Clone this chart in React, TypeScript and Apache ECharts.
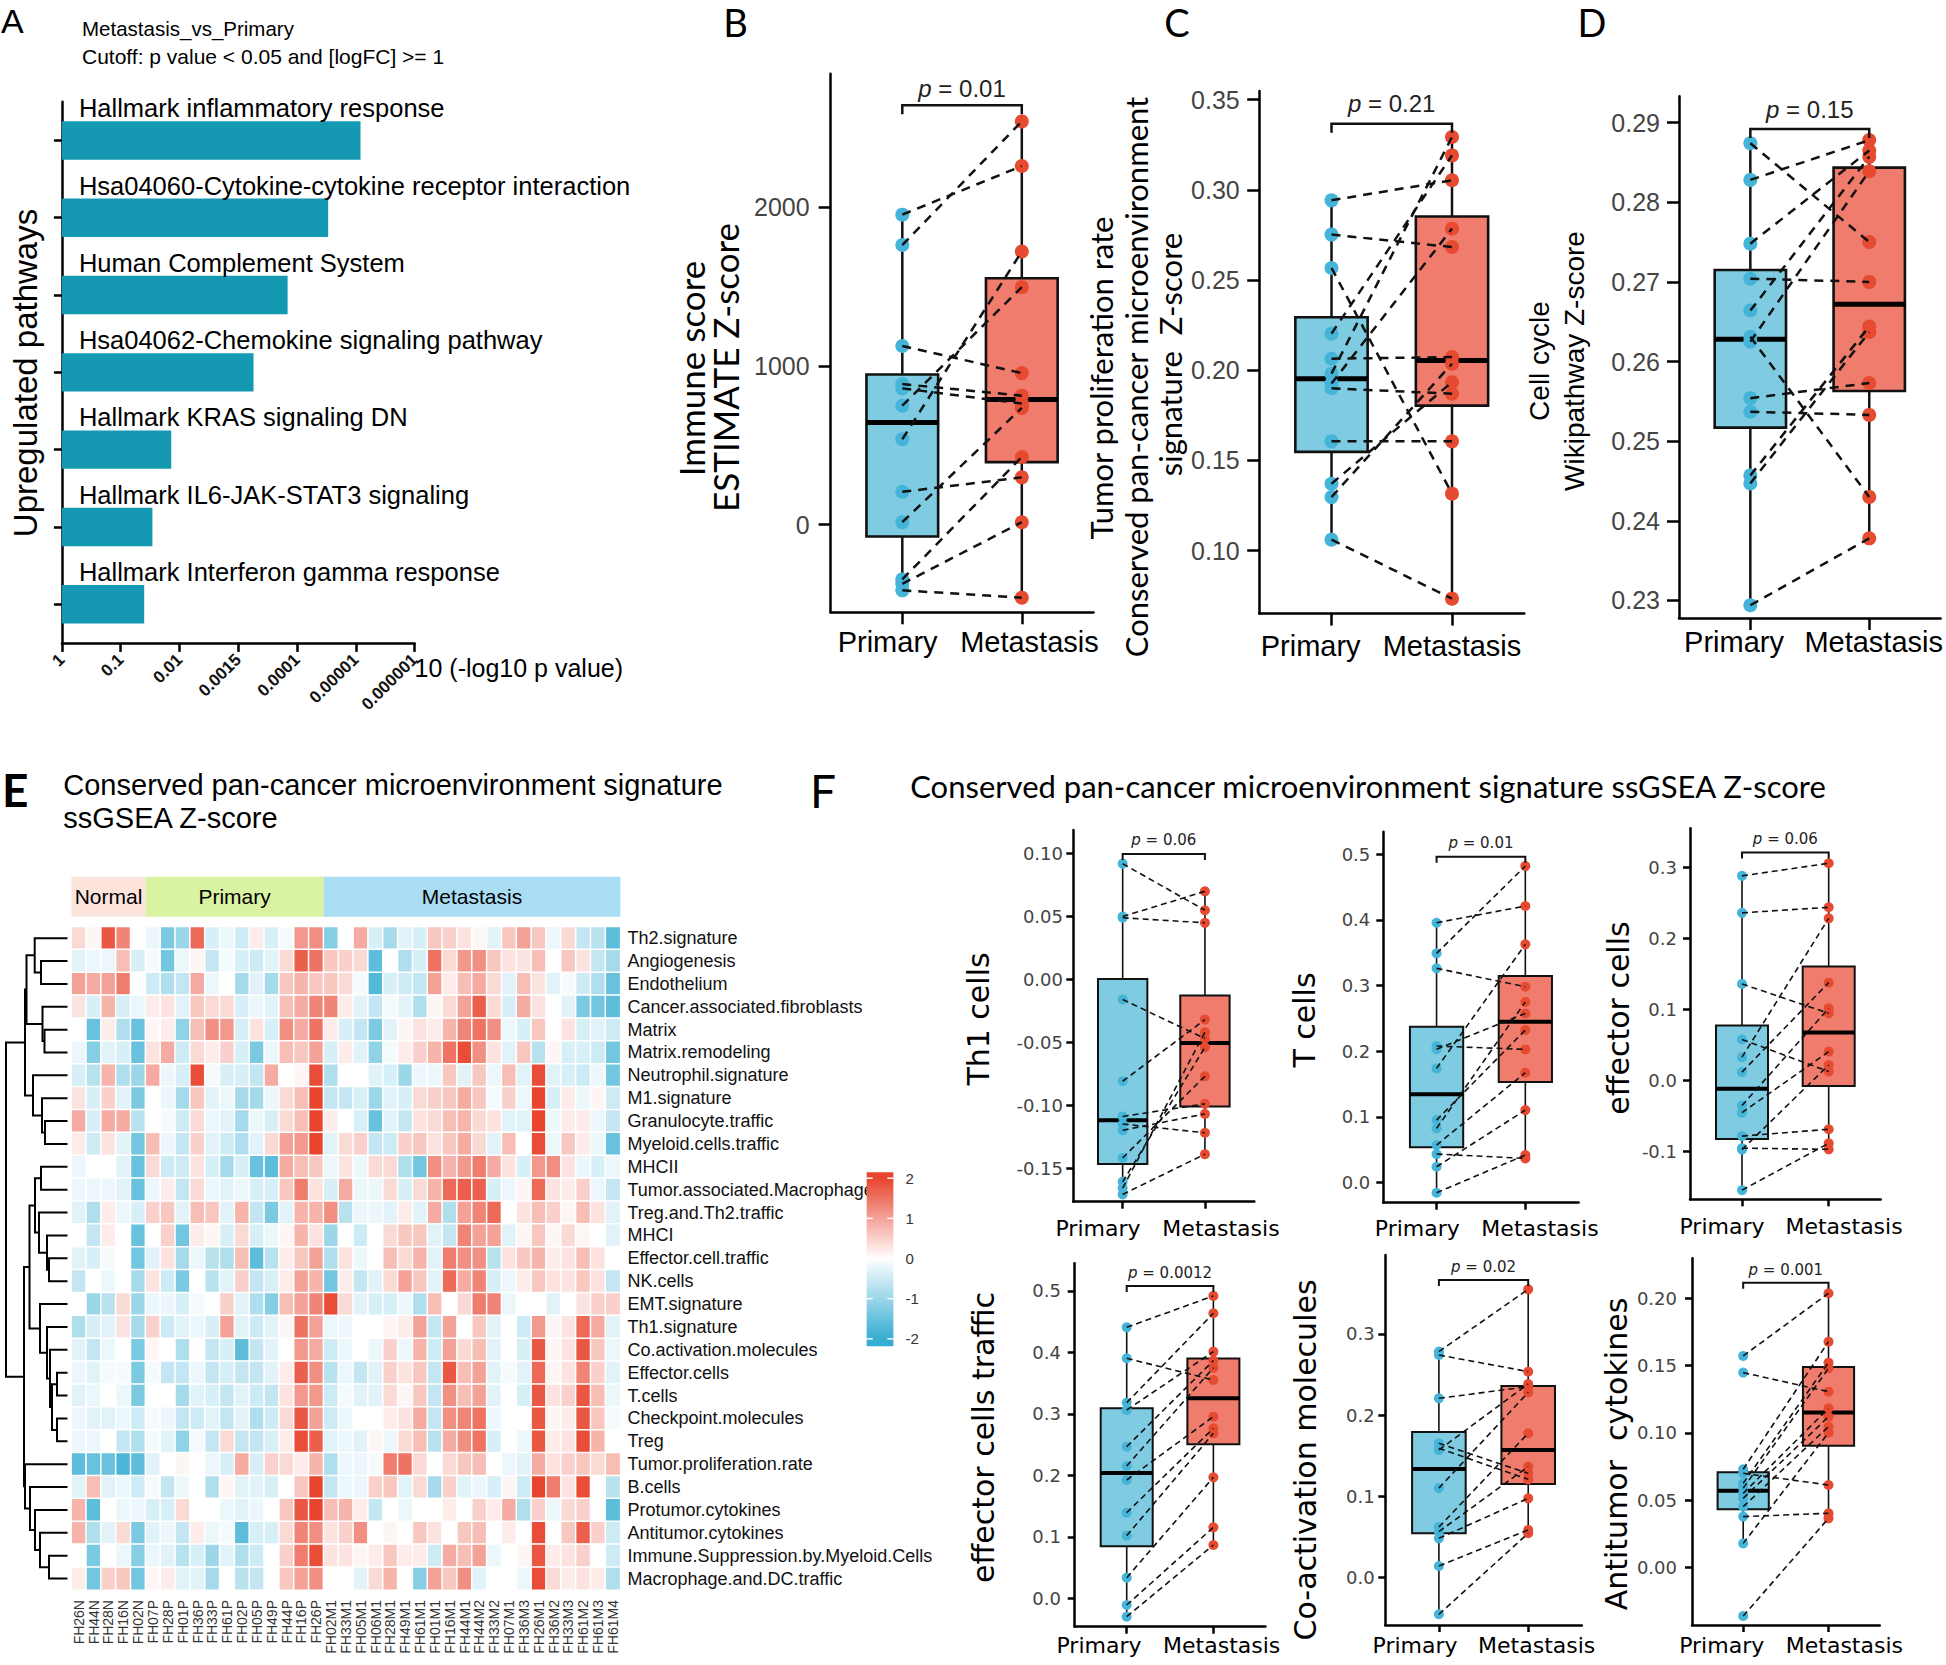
import React, { useEffect, useRef } from "react";
import * as echarts from "echarts";

const ARIAL = '"Liberation Sans", Arial, sans-serif';
const CAL = 'Lato, "Liberation Sans", sans-serif';
const DEJA = '"DejaVu Sans", sans-serif';

const BAR_COLOR = "#1598B2";
const BLUE_PT = "#45B4D9";
const RED_PT = "#E64A30";
const BLUE_BOX = "#7ECBE2";
const RED_BOX = "#EF7C6C";
const HEAT_BLUE = "#36ADD2";
const HEAT_RED = "#E8442E";

// ---------------- Panel A ----------------
const pathwayNames = [
  "Hallmark inflammatory response",
  "Hsa04060-Cytokine-cytokine receptor interaction",
  "Human Complement System",
  "Hsa04062-Chemokine signaling pathway",
  "Hallmark KRAS signaling DN",
  "Hallmark IL6-JAK-STAT3 signaling",
  "Hallmark Interferon gamma response",
];
const pathwayScore = [5.08, 4.53, 3.84, 3.26, 1.86, 1.54, 1.4];
const pValueTicks = ["1", "0.1", "0.01", "0.0015", "0.0001", "0.00001", "0.000001"];

// ---------------- Paired panels (Primary[i] pairs with Metastasis[i]) ----------------
const immunePrimary = [1951, 1760, 1125, 885, 858, 749, 538, 207, 16, -344, -372, -413];
const immuneMetastasis = [2257, 2538, 954, 812, 763, 1495, 1719, 298, 735, 426, 16, -459];

const prolifPrimary = [0.2942, 0.2752, 0.2567, 0.2203, 0.2064, 0.1981, 0.1926, 0.19, 0.1606, 0.1371, 0.1297, 0.1061];
const prolifMetastasis = [0.3053, 0.2683, 0.1316, 0.3191, 0.2073, 0.3293, 0.2785, 0.187, 0.1606, 0.1934, 0.2036, 0.0734];

const cellCyclePrimary = [0.2874, 0.2828, 0.2748, 0.2704, 0.2664, 0.2631, 0.2625, 0.2554, 0.2537, 0.2457, 0.2447, 0.2294];
const cellCycleMetastasis = [0.275, 0.2878, 0.2865, 0.27, 0.2857, 0.243, 0.2839, 0.2573, 0.2533, 0.2644, 0.2637, 0.2378];

const th1Primary = [0.092, 0.05, 0.049, -0.016, -0.081, -0.109, -0.115, -0.12, -0.142, -0.161, -0.166, -0.171];
const th1Metastasis = [0.055, 0.07, 0.045, -0.047, -0.032, -0.099, -0.122, -0.107, -0.077, -0.054, -0.042, -0.139];

const tcellPrimary = [0.3955, 0.3489, 0.3261, 0.2079, 0.203, 0.1739, 0.0953, 0.0827, 0.0573, 0.0436, 0.0243, -0.0152];
const tcellMetastasis = [0.4209, 0.4817, 0.2982, 0.2028, 0.2576, 0.3626, 0.2323, 0.275, 0.1673, 0.037, 0.1105, 0.0421];

const effPrimary = [0.288, 0.236, 0.136, 0.058, 0.033, 0.012, -0.035, -0.045, -0.078, -0.095, -0.097, -0.154];
const effMetastasis = [0.3057, 0.2438, 0.0947, 0.0127, 0.2283, 0.1378, 0.1017, 0.0408, -0.0684, -0.0966, 0.022, -0.0881];

const effTrafficPrimary = [0.4409, 0.3905, 0.3183, 0.3064, 0.2467, 0.2153, 0.1925, 0.1394, 0.102, 0.0336, -0.0108, -0.0298];
const effTrafficMetastasis = [0.4919, 0.3552, 0.4637, 0.4013, 0.3867, 0.375, 0.2956, 0.2766, 0.2684, 0.1969, 0.1155, 0.0868];

const coactPrimary = [0.2783, 0.2741, 0.2207, 0.1652, 0.1591, 0.157, 0.11, 0.062, 0.0563, 0.0481, 0.014, -0.0456];
const coactMetastasis = [0.3551, 0.2536, 0.2351, 0.1282, 0.1208, 0.2384, 0.228, 0.1776, 0.1365, 0.0974, 0.0584, 0.0543];

const antitumorPrimary = [0.1572, 0.1448, 0.0729, 0.0699, 0.0625, 0.0588, 0.055, 0.0513, 0.0451, 0.0377, 0.0178, -0.0362];
const antitumorMetastasis = [0.2038, 0.1306, 0.1678, 0.0612, 0.1522, 0.148, 0.1182, 0.112, 0.1046, 0.0402, 0.1001, 0.0364];

// ---------------- Panel E heatmap ----------------
const groupNames = ["Normal", "Primary", "Metastasis"];
const groupSizes = [5, 12, 20];
const groupColors = ["#FCE4DD", "#DAF3A2", "#A9DDF4"];
const sampleNames = [
  "FH26N", "FH44N", "FH28N", "FH16N", "FH02N",
  "FH07P", "FH28P", "FH01P", "FH36P", "FH33P", "FH61P", "FH02P", "FH05P", "FH49P", "FH44P", "FH16P", "FH26P",
  "FH02M1", "FH33M1", "FH05M1", "FH06M1", "FH28M1", "FH49M1", "FH61M1", "FH01M1", "FH16M1", "FH44M1",
  "FH44M2", "FH33M2", "FH07M1", "FH36M3", "FH26M1", "FH36M2", "FH33M3", "FH61M2", "FH61M3", "FH61M4",
];
const signatureNames = [
  "Th2.signature", "Angiogenesis", "Endothelium", "Cancer.associated.fibroblasts", "Matrix",
  "Matrix.remodeling", "Neutrophil.signature", "M1.signature", "Granulocyte.traffic", "Myeloid.cells.traffic",
  "MHCII", "Tumor.associated.Macrophages", "Treg.and.Th2.traffic", "MHCI", "Effector.cell.traffic",
  "NK.cells", "EMT.signature", "Th1.signature", "Co.activation.molecules", "Effector.cells",
  "T.cells", "Checkpoint.molecules", "Treg", "Tumor.proliferation.rate", "B.cells",
  "Protumor.cytokines", "Antitumor.cytokines", "Immune.Suppression.by.Myeloid.Cells", "Macrophage.and.DC.traffic",
];
const heatValues = [
  [0.4,0.1,1.8,1.3,0.0, -0.2,-1.3,-1.0,1.6,-0.4,-0.2,-0.5,0.2,-0.4,-0.1,1.1,1.2, -1.2,0.0,0.9,-0.4,-0.9,-0.3,-0.4,0.6,0.5,0.3,0.1,-0.3,0.6,1.0,0.6,-0.2,0.4,-0.6,-0.7,-1.6],
  [-0.3,-0.2,-0.2,0.7,-0.4, -0.1,-1.4,-0.2,0.1,-0.6,-0.1,-0.4,-0.5,-0.3,0.4,1.7,1.5, 0.6,0.5,0.4,-1.6,0.0,-0.8,-0.4,1.5,0.4,1.1,1.2,0.6,0.3,0.3,0.7,0.0,0.6,0.3,-0.6,-0.9],
  [1.0,0.9,1.0,1.4,0.0, -0.5,-0.8,-0.6,0.9,-0.2,0.0,-0.9,-0.3,-0.9,0.6,0.8,0.6, 0.6,0.4,-0.1,-1.7,-0.4,-0.5,-0.6,1.0,0.2,0.7,0.9,0.4,-0.3,0.7,0.3,-0.3,-0.1,-0.5,-0.8,-1.5],
  [0.3,-0.4,0.8,-0.4,-0.2, 0.2,0.3,-0.3,0.6,0.4,0.4,-0.4,-0.2,-0.3,0.7,0.9,1.3, 1.3,0.2,-0.3,-0.6,-0.1,-0.3,-0.8,0.1,0.4,1.0,1.7,0.4,-0.4,0.9,0.3,0.0,-0.3,-1.3,-1.4,-1.6],
  [0.0,-1.5,0.2,-0.8,-1.5, 0.1,0.2,-1.1,0.7,1.2,1.1,-0.4,0.3,-0.4,1.2,0.9,1.5, 0.2,-0.4,-0.6,-1.3,-0.3,0.1,0.3,0.2,0.8,1.3,1.5,1.2,-0.2,-0.4,0.6,0.0,0.3,-0.4,-0.3,-0.5],
  [-0.2,-1.2,-0.3,-0.4,-1.5, 0.3,0.9,-0.5,0.4,0.2,0.5,-0.4,-1.3,-0.2,0.7,0.6,1.0, -0.4,0.2,-0.3,-1.1,-0.1,0.2,0.5,0.8,1.5,1.9,1.2,0.3,-0.3,0.6,-0.7,0.1,-0.4,-0.4,-0.5,-1.4],
  [-0.4,-0.7,0.8,-0.8,-1.0, 0.9,-0.2,-0.4,1.9,-0.1,-0.4,-0.4,-0.6,0.9,0.0,0.1,1.9, -0.8,0.0,0.0,-0.3,-0.4,-1.0,-0.2,-0.2,0.6,-0.3,0.6,-0.2,0.7,-0.3,1.9,-0.3,-0.4,-0.5,-0.2,-1.4],
  [0.3,-0.4,0.5,-0.3,-1.3, 0.0,-0.2,-0.9,0.6,-0.3,-0.2,-0.9,-0.9,-0.2,0.4,0.7,2.0, -0.6,-0.6,-0.4,-1.0,-0.3,-0.4,0.4,0.5,0.6,0.9,0.6,-0.1,0.5,-0.2,2.0,-0.4,0.2,-0.2,0.1,-0.5],
  [0.9,-0.4,0.9,0.9,-0.7, 0.0,-0.1,-0.5,0.4,-0.2,-0.3,-0.9,-0.2,-0.4,0.4,0.7,2.0, 0.2,0.0,-0.4,-1.5,-0.3,-0.6,0.3,0.4,0.7,0.8,0.4,0.3,-0.3,-0.3,2.0,-0.2,0.2,0.2,-0.2,-0.6],
  [0.2,-0.5,0.3,-0.3,-1.4, 0.7,-0.2,-0.6,0.5,-0.3,-0.5,-0.8,-0.3,0.4,1.0,1.1,2.0, -0.3,0.4,0.5,-0.6,-0.5,0.5,0.6,0.3,0.6,0.9,0.4,-0.3,0.7,0.0,1.9,-0.2,0.6,0.2,-0.2,-1.5],
  [-0.2,0.0,0.0,-0.3,-1.5, 0.4,-0.5,-0.5,0.3,-0.4,-0.9,-0.4,-1.5,-1.6,0.9,0.7,0.6, -0.2,0.3,-0.2,0.4,0.4,-0.8,-1.4,1.2,0.8,1.1,1.4,0.9,0.3,-0.4,1.1,1.2,0.3,-0.2,-0.4,-0.2],
  [-0.2,-0.2,-0.2,-0.3,-1.5, -0.2,0.2,-0.6,0.4,-0.2,-0.3,-0.2,-0.4,-0.4,0.6,1.4,0.3, -0.4,0.9,-0.2,-0.2,0.4,-0.4,0.4,0.8,1.6,1.7,1.7,-0.4,-0.2,0.1,1.6,0.3,0.2,0.5,-0.2,-0.6],
  [-0.3,-0.8,0.2,-0.2,-0.4, 0.5,0.6,-0.3,0.7,0.6,-0.3,0.8,-0.6,-1.3,-0.3,0.8,0.8, 1.2,-0.7,-0.2,-0.2,-0.3,0.2,-0.3,0.9,-0.8,1.0,1.3,1.6,0.0,0.3,0.7,0.5,0.1,0.7,0.3,-0.3],
  [0.0,-0.6,0.2,0.0,-1.5, 0.0,0.5,-1.4,0.2,0.1,-0.4,0.4,-0.4,-0.2,0.1,0.8,0.3, -1.0,0.0,-0.5,0.0,0.4,0.6,0.6,-0.3,-0.6,1.3,1.0,1.0,-0.3,0.1,0.6,0.1,0.4,0.1,0.0,-0.3],
  [-0.3,-0.4,-0.1,0.0,-1.4, -0.3,0.3,-0.9,-0.2,-0.7,-0.8,0.7,-1.6,-0.7,0.2,0.6,1.0, -0.8,0.3,-0.2,0.0,0.7,0.4,0.8,-0.3,1.4,1.2,1.2,-0.7,0.3,0.6,0.8,0.2,0.3,0.7,0.3,0.0],
  [-0.6,0.0,-0.2,0.0,-0.9, 0.3,-0.5,-1.3,0.0,-0.7,-0.3,0.5,-0.6,-0.4,0.2,1.0,0.8, -1.4,0.2,-0.6,-0.3,0.4,1.0,0.6,-0.3,1.6,0.9,1.3,-0.4,-0.2,0.2,0.6,0.3,0.3,0.6,0.3,-0.6],
  [0.0,-1.0,-0.7,0.4,-1.0, -0.2,-0.2,-0.4,-0.1,0.0,0.5,-0.3,-0.8,-1.2,0.7,1.0,1.3, 1.9,0.4,-0.3,-0.4,-0.4,-0.2,-0.8,0.7,0.0,0.4,1.4,1.3,-0.2,0.0,0.0,-0.3,0.0,0.3,0.5,0.5],
  [-0.8,-0.4,-0.3,0.3,-0.9, 0.5,-0.5,-0.3,-0.2,-0.4,1.0,-0.3,-0.5,-0.3,0.1,1.5,1.0, -0.2,-0.2,0.0,0.0,0.1,0.2,1.0,-0.6,1.0,0.0,0.6,-0.3,0.0,-0.5,1.1,0.1,0.3,1.6,0.9,-0.3],
  [-0.3,-0.6,-0.2,0.0,-1.3, 0.1,0.0,-0.8,0.0,-0.6,-0.4,-1.6,-0.6,-0.3,0.0,1.1,0.9, -0.5,-0.2,0.0,-0.2,0.5,-0.2,0.8,-0.5,1.0,0.4,0.7,-0.3,0.0,-0.4,1.8,0.1,0.3,1.8,0.6,-0.2],
  [-0.2,-0.3,-0.1,-0.1,-1.3, -0.1,-0.6,-0.6,-0.2,-0.6,-0.4,-0.6,-0.6,-0.3,0.2,1.7,1.2, -0.7,-0.2,-0.6,-0.3,0.5,0.3,0.6,-0.6,1.8,0.7,1.0,-0.3,-0.1,-0.3,1.6,0.1,0.3,1.3,0.5,-0.3],
  [-0.3,-0.2,0.0,-0.2,-1.3, 0.0,0.0,-0.9,-0.3,-0.4,-0.6,-0.3,-0.5,-0.6,0.3,1.1,1.1, -0.5,-0.1,-0.3,-0.3,0.4,0.1,0.6,-0.6,1.2,0.7,1.0,-0.3,0.0,-0.4,1.8,0.3,0.5,1.8,0.7,-0.2],
  [-0.2,-0.3,-0.3,-0.2,-0.5, -0.1,-0.2,-0.6,-0.5,-0.3,-0.6,-0.3,-0.8,-0.5,0.4,1.8,1.0, -0.5,-0.2,0.0,0.0,0.2,0.3,0.9,-0.6,1.2,1.3,1.5,-0.2,0.0,0.0,1.8,0.1,0.2,1.8,0.6,-0.1],
  [-0.2,-0.2,0.0,-0.6,-0.8, -0.1,-0.3,-1.1,-0.1,-0.6,0.4,-0.6,-0.6,-0.4,0.2,1.9,1.7, -0.3,-0.2,-0.3,0.1,-0.2,0.4,0.7,-0.7,0.9,1.2,1.5,-0.4,0.0,-0.2,1.8,0.2,0.3,1.9,0.8,0.0],
  [-1.6,-1.5,-1.5,-1.8,-1.6, -0.3,0.0,0.1,0.0,-0.2,-0.4,0.9,-0.4,0.5,0.4,0.2,0.8, -0.8,-0.2,-0.2,-0.1,1.4,1.5,0.4,0.0,0.4,0.6,0.7,0.0,-0.2,-0.3,0.9,0.3,0.5,0.6,0.4,0.7],
  [-0.3,0.7,-0.3,-0.2,-0.5, -0.1,-0.6,-0.2,0.0,-0.8,0.1,-0.3,-0.3,-0.4,0.0,0.6,2.0, -0.6,-0.2,-0.2,0.5,0.6,-0.3,0.4,-0.9,0.5,-0.3,-0.2,-0.4,0.1,-0.5,2.0,1.4,0.3,1.9,0.0,-0.7],
  [0.8,-1.6,0.0,-0.2,-0.2, -0.4,-0.4,0.4,0.0,0.0,-0.2,-0.3,-0.2,0.0,0.6,1.8,2.0, 0.7,0.8,0.2,-0.6,0.0,-0.2,0.0,0.0,0.2,0.0,0.5,0.2,0.9,-0.8,0.5,-0.2,0.4,0.5,0.0,-1.6],
  [0.8,-0.8,-0.3,0.4,-1.3, -0.3,-0.2,-0.6,0.2,-0.2,-0.1,-1.6,-0.4,-0.4,0.4,1.3,1.2, 0.3,0.5,1.2,0.0,0.1,0.0,0.6,0.3,0.0,0.6,0.7,0.0,0.2,0.0,1.9,0.0,0.6,1.7,0.5,-0.5],
  [0.0,-1.3,0.0,-0.2,-1.2, -0.2,-0.3,-0.7,-0.4,-1.0,-0.3,-0.8,-0.5,0.0,0.5,1.4,1.9, 0.3,0.3,0.1,0.2,0.6,0.2,0.2,-0.5,0.9,0.7,1.0,-0.2,0.0,0.1,1.8,0.2,0.3,0.5,0.0,-0.5],
  [0.2,-1.4,0.5,0.6,-1.4, 0.1,0.2,-0.3,-0.3,-0.9,0.0,-0.7,-0.6,0.0,0.6,1.0,1.2, 0.0,0.0,-0.3,0.4,0.8,0.0,-1.2,1.0,0.6,1.2,-0.3,0.0,0.0,-0.2,1.9,0.4,0.2,0.3,0.2,-0.8],
];
const legendTicks = [2, 1, 0, -1, -2];

// Row dendrogram, hclust style: negative = leaf (row index + 1), positive = earlier merge (1-based)
const dendroMerges: [number, number, number][] = [
  [-2, -3, 26.5], [-1, 1, 32.8], [-5, -6, 23], [-4, 3, 25], [2, 4, 41],
  [-9, -10, 22.5], [-8, 6, 25.5], [-7, 7, 34.5], [5, 8, 42.5],
  [-11, -12, 26.5], [-15, -16, 18.5], [-14, 11, 20.5], [-13, 12, 28.5], [10, 13, 32.5],
  [-20, -21, 10.5], [-22, -23, 10.5], [15, 16, 15.5], [-19, 17, 17.5], [-18, 18, 20.5], [-17, 19, 27.5],
  [14, 20, 38], [-28, -29, 18.5], [-27, 22, 27.5], [-26, 23, 32.5], [-25, 24, 37.5], [-24, 25, 42.5],
  [21, 26, 43.5], [9, 27, 61.5],
];

// ---------------- helpers ----------------
function quantile(s: number[], p: number) {
  const h = (s.length - 1) * p;
  const lo = Math.floor(h);
  const hi = Math.min(lo + 1, s.length - 1);
  return s[lo] + (h - lo) * (s[hi] - s[lo]);
}
function boxStats(vals: number[]) {
  const s = [...vals].sort((a, b) => a - b);
  const q1 = quantile(s, 0.25), med = quantile(s, 0.5), q3 = quantile(s, 0.75);
  const iqr = q3 - q1;
  const lo = s.find((v) => v >= q1 - 1.5 * iqr) as number;
  const hi = [...s].reverse().find((v) => v <= q3 + 1.5 * iqr) as number;
  return [lo, q1, med, q3, hi];
}

type PanelCfg = {
  P: number[]; M: number[]; pText: string; bracket: number;
  left: number; top: number; width: number; height: number;
  yMin: number; yMax: number; yTicks: number[]; dec: number;
  labelPos: number[]; xMargin: number; yMargin: number; big: boolean; textOff: number;
};

const panels: PanelCfg[] = [
  { P: immunePrimary, M: immuneMetastasis, pText: "0.01", bracket: 2639, left: 830.6, top: 73.7, width: 262.9, height: 538.6,
    yMin: -551, yMax: 2838, yTicks: [0, 1000, 2000], dec: 0, labelPos: [0.877, 2.064], xMargin: 15, yMargin: 21, big: true, textOff: 16.5 },
  { P: prolifPrimary, M: prolifMetastasis, pText: "0.21", bracket: 0.3367, left: 1259.2, top: 91, width: 265.1, height: 522.6,
    yMin: 0.0651, yMax: 0.3548, yTicks: [0.1, 0.15, 0.2, 0.25, 0.3, 0.35], dec: 2, labelPos: [0.827, 2.0], xMargin: 18, yMargin: 19.5, big: true, textOff: 20 },
  { P: cellCyclePrimary, M: cellCycleMetastasis, pText: "0.15", bracket: 0.2892, left: 1679, top: 96.3, width: 264, height: 521.7,
    yMin: 0.2278, yMax: 0.2933, yTicks: [0.23, 0.24, 0.25, 0.26, 0.27, 0.28, 0.29], dec: 2, labelPos: [0.8625, 2.0375], xMargin: 9.5, yMargin: 19, big: true, textOff: 19.6 },
  { P: th1Primary, M: th1Metastasis, pText: "0.06", bracket: 0.0997, left: 1073.3, top: 830, width: 181, height: 371.7,
    yMin: -0.1768, yMax: 0.1188, yTicks: [-0.15, -0.1, -0.05, 0, 0.05, 0.1], dec: 2, labelPos: [0.7, 2.195], xMargin: 15.5, yMargin: 10.3, big: false, textOff: 14 },
  { P: tcellPrimary, M: tcellMetastasis, pText: "0.01", bracket: 0.496, left: 1383.3, top: 831.7, width: 195.3, height: 371,
    yMin: -0.0304, yMax: 0.534, yTicks: [0, 0.1, 0.2, 0.3, 0.4, 0.5], dec: 1, labelPos: [0.783, 2.165], xMargin: 14.6, yMargin: 13, big: false, textOff: 14 },
  { P: effPrimary, M: effMetastasis, pText: "0.06", bracket: 0.3207, left: 1690, top: 828.3, width: 190.7, height: 371,
    yMin: -0.1669, yMax: 0.3549, yTicks: [-0.1, 0, 0.1, 0.2, 0.3], dec: 1, labelPos: [0.769, 2.177], xMargin: 16, yMargin: 13, big: false, textOff: 13.4 },
  { P: effTrafficPrimary, M: effTrafficMetastasis, pText: "0.0012", bracket: 0.508, left: 1074.7, top: 1263.3, width: 190.7, height: 363.4,
    yMin: -0.0461, yMax: 0.545, yTicks: [0, 0.1, 0.2, 0.3, 0.4, 0.5], dec: 1, labelPos: [0.68, 2.096], xMargin: 7.3, yMargin: 13.7, big: false, textOff: 12.7 },
  { P: coactPrimary, M: coactMetastasis, pText: "0.02", bracket: 0.3666, left: 1385.3, top: 1255, width: 196.5, height: 370,
    yMin: -0.0588, yMax: 0.3974, yTicks: [0, 0.1, 0.2, 0.3], dec: 1, labelPos: [0.733, 2.095], xMargin: 9, yMargin: 10.6, big: false, textOff: 13.3 },
  { P: antitumorPrimary, M: antitumorMetastasis, pText: "0.001", bracket: 0.2117, left: 1692, top: 1258.3, width: 187.7, height: 366.7,
    yMin: -0.0429, yMax: 0.2298, yTicks: [0, 0.05, 0.1, 0.15, 0.2], dec: 2, labelPos: [0.748, 2.186], xMargin: 9, yMargin: 15, big: false, textOff: 12.7 },
];

function buildOption() {
  const grid: any[] = [];
  const xAxis: any[] = [];
  const yAxis: any[] = [];
  const series: any[] = [];
  const graphic: any[] = [];

  // ----- Panel A -----
  grid.push({ left: 61.9, top: 101.8, width: 352.7, height: 541.1 });
  xAxis.push({
    gridIndex: 0, type: "value", min: 0, max: 6, interval: 1,
    axisLine: { show: true, onZero: false, lineStyle: { color: "#000", width: 2.5 } },
    axisTick: { show: true, length: 9, lineStyle: { color: "#000", width: 2.5 } },
    axisLabel: {
      rotate: 45, margin: 14, fontSize: 17, fontWeight: "bold", color: "#111", fontFamily: ARIAL,
      showMinLabel: true, showMaxLabel: true,
      formatter: (v: number) => pValueTicks[Math.round(v)] ?? "",
    },
    splitLine: { show: false },
  });
  yAxis.push({
    gridIndex: 0, type: "category", inverse: true, data: pathwayNames,
    axisLine: { show: true, onZero: false, lineStyle: { color: "#000", width: 2.5 } },
    axisTick: { show: true, alignWithLabel: true, length: 8, lineStyle: { color: "#000", width: 2.5 } },
    axisLabel: { show: false },
  });
  series.push({
    type: "bar", xAxisIndex: 0, yAxisIndex: 0, data: pathwayScore, barWidth: 38.4, silent: true,
    itemStyle: { color: BAR_COLOR },
    label: {
      show: true, position: [17, -13], formatter: "{b}", align: "left", verticalAlign: "middle",
      fontSize: 25.5, color: "#000", fontFamily: ARIAL,
    },
  });

  // ----- Paired box panels -----
  panels.forEach((cfg) => {
    const gi = grid.length;
    const big = cfg.big;
    const lw = 2.5;
    grid.push({ left: cfg.left, top: cfg.top, width: cfg.width, height: cfg.height });
    xAxis.push({
      gridIndex: gi, type: "value", min: 0.4, max: 2.6,
      axisLine: { show: true, onZero: false, lineStyle: { color: "#000", width: lw } },
      axisTick: { show: true, customValues: [1, 2], length: big ? 12 : 7, lineStyle: { color: "#000", width: lw } },
      axisLabel: {
        customValues: cfg.labelPos, formatter: (v: number) => (v < 1.5 ? "Primary" : "Metastasis"),
        fontSize: big ? 29 : 22, fontFamily: big ? ARIAL : DEJA, color: "#000", margin: cfg.xMargin,
      },
      splitLine: { show: false },
    });
    yAxis.push({
      gridIndex: gi, type: "value", min: cfg.yMin, max: cfg.yMax,
      axisLine: { show: true, onZero: false, lineStyle: { color: "#000", width: lw } },
      axisTick: { show: true, customValues: cfg.yTicks, length: big ? 12 : 7, lineStyle: { color: "#000", width: lw } },
      axisLabel: {
        customValues: cfg.yTicks, formatter: (v: number) => v.toFixed(cfg.dec),
        fontSize: big ? 25 : 18, fontFamily: big ? ARIAL : DEJA, color: "#444", margin: cfg.yMargin,
      },
      splitLine: { show: false },
    });
    const whiskW = big ? 2.5 : 1.6;
    const boxW = big ? 2.6 : 2;
    const medW = big ? 5 : 4;
    series.push({
      type: "custom", xAxisIndex: gi, yAxisIndex: gi, z: 2, silent: true,
      data: [[1, ...boxStats(cfg.P)], [2, ...boxStats(cfg.M)]],
      renderItem: (params: any, api: any) => {
        const x = api.value(0);
        const lo = api.coord([x, api.value(1)]);
        const q1 = api.coord([x, api.value(2)]);
        const md = api.coord([x, api.value(3)]);
        const q3 = api.coord([x, api.value(4)]);
        const hi = api.coord([x, api.value(5)]);
        const half = api.size([0.3, 0])[0];
        const fill = x === 1 ? BLUE_BOX : RED_BOX;
        return {
          type: "group",
          children: [
            { type: "line", shape: { x1: lo[0], y1: lo[1], x2: q1[0], y2: q1[1] }, style: { stroke: "#111", lineWidth: whiskW } },
            { type: "line", shape: { x1: q3[0], y1: q3[1], x2: hi[0], y2: hi[1] }, style: { stroke: "#111", lineWidth: whiskW } },
            { type: "rect", shape: { x: q1[0] - half, y: q3[1], width: half * 2, height: q1[1] - q3[1] }, style: { fill, stroke: "#111", lineWidth: boxW } },
            { type: "line", shape: { x1: md[0] - half, y1: md[1], x2: md[0] + half, y2: md[1] }, style: { stroke: "#000", lineWidth: medW } },
          ],
        };
      },
    });
    series.push({
      type: "scatter", xAxisIndex: gi, yAxisIndex: gi, z: 3, silent: true, symbolSize: big ? 14 : 10,
      itemStyle: { color: BLUE_PT, opacity: 1 }, data: cfg.P.map((v) => [1, v]),
    });
    series.push({
      type: "scatter", xAxisIndex: gi, yAxisIndex: gi, z: 3, silent: true, symbolSize: big ? 14 : 10,
      itemStyle: { color: RED_PT, opacity: 1 }, data: cfg.M.map((v) => [2, v]),
    });
    series.push({
      type: "custom", xAxisIndex: gi, yAxisIndex: gi, z: 4, silent: true,
      data: cfg.P.map((v, i) => [v, cfg.M[i]]),
      renderItem: (params: any, api: any) => {
        const a = api.coord([1, api.value(0)]);
        const b = api.coord([2, api.value(1)]);
        return {
          type: "line", shape: { x1: a[0], y1: a[1], x2: b[0], y2: b[1] },
          style: { stroke: "#111", lineWidth: big ? 2.5 : 1.6, lineDash: big ? [9, 7] : [6, 4] },
        };
      },
    });
    series.push({
      type: "custom", xAxisIndex: gi, yAxisIndex: gi, z: 4, silent: true,
      data: [[cfg.bracket]],
      renderItem: (params: any, api: any) => {
        const a = api.coord([1, api.value(0)]);
        const b = api.coord([2, api.value(0)]);
        const tick = big ? 9 : 6;
        const fs = big ? 24 : 15;
        const fam = big ? ARIAL : DEJA;
        return {
          type: "group",
          children: [
            {
              type: "polyline",
              shape: { points: [[a[0], a[1] + tick], [a[0], a[1]], [b[0], b[1]], [b[0], b[1] + tick]] },
              style: { stroke: "#111", fill: "none", lineWidth: big ? 2.5 : 2 },
            },
            {
              type: "text", x: (a[0] + b[0]) / 2, y: a[1] - cfg.textOff,
              style: {
                text: "{i|p} = " + cfg.pText, fontSize: fs, fontFamily: fam, fill: "#222",
                align: "center", verticalAlign: "middle",
                rich: { i: { fontStyle: "italic", fontSize: fs, fontFamily: fam, fill: "#222" } },
              },
            },
          ],
        };
      },
    });
  });

  // ----- Panel E: heatmap -----
  const hg = grid.length;
  grid.push({ left: 71.4, top: 926.7, width: 549, height: 663.3 });
  xAxis.push({
    gridIndex: hg, type: "category", data: sampleNames,
    axisLine: { show: false }, axisTick: { show: false }, splitLine: { show: false },
    axisLabel: { rotate: 90, fontSize: 14, color: "#333", fontFamily: ARIAL, margin: 10, interval: 0 },
  });
  yAxis.push({
    gridIndex: hg, type: "category", data: signatureNames, inverse: true, position: "right",
    axisLine: { show: false }, axisTick: { show: false }, splitLine: { show: false },
    axisLabel: { fontSize: 18, color: "#111", fontFamily: ARIAL, margin: 7, interval: 0 },
  });
  const heatIndex = series.length;
  series.push({
    type: "heatmap", xAxisIndex: hg, yAxisIndex: hg, silent: true, progressive: 0,
    data: heatValues.flatMap((row, r) => row.map((v, c) => [c, r, v])),
    itemStyle: { borderColor: "#ffffff", borderWidth: 1.5 },
  });

  // annotation bar
  const ag = grid.length;
  grid.push({ left: 71.4, top: 876.7, width: 549, height: 40 });
  xAxis.push({ gridIndex: ag, type: "category", data: sampleNames, show: false });
  yAxis.push({ gridIndex: ag, type: "value", min: 0, max: 1, show: false });
  const spans: number[][] = [];
  let start = 0;
  groupSizes.forEach((n, g) => {
    spans.push([start, start + n - 1, g]);
    start += n;
  });
  series.push({
    type: "custom", xAxisIndex: ag, yAxisIndex: ag, silent: true, data: spans,
    renderItem: (params: any, api: any) => {
      const bw = api.size([1, 0])[0];
      const a = api.coord([api.value(0), 1]);
      const b = api.coord([api.value(1), 0]);
      const g = api.value(2);
      const x0 = a[0] - bw / 2;
      const x1 = b[0] + bw / 2;
      return {
        type: "group",
        children: [
          { type: "rect", shape: { x: x0, y: a[1], width: x1 - x0, height: b[1] - a[1] }, style: { fill: groupColors[g] } },
          {
            type: "text", x: (x0 + x1) / 2, y: (a[1] + b[1]) / 2,
            style: { text: groupNames[g], align: "center", verticalAlign: "middle", fontSize: 21, fontFamily: ARIAL, fill: "#000" },
          },
        ],
      };
    },
  });

  // dendrogram
  const dg = grid.length;
  grid.push({ left: 5.5, top: 926.7, width: 62, height: 663.3 });
  xAxis.push({ gridIndex: dg, type: "value", min: 0, max: 62, inverse: true, show: false });
  yAxis.push({ gridIndex: dg, type: "value", min: -0.5, max: 28.5, inverse: true, show: false });
  const nodeY: number[] = [];
  const nodeH: number[] = [];
  const segs: number[][] = [];
  const pos = (id: number) => (id < 0 ? [-id - 1, 0] : [nodeY[id - 1], nodeH[id - 1]]);
  dendroMerges.forEach(([a, b, h]) => {
    const [ya, ha] = pos(a);
    const [yb, hb] = pos(b);
    segs.push([ha, ya, hb, yb, h]);
    nodeY.push((ya + yb) / 2);
    nodeH.push(h);
  });
  series.push({
    type: "custom", xAxisIndex: dg, yAxisIndex: dg, silent: true, data: segs,
    renderItem: (params: any, api: any) => {
      const h = api.value(4);
      const p1 = api.coord([api.value(0), api.value(1)]);
      const q1 = api.coord([h, api.value(1)]);
      const q2 = api.coord([h, api.value(3)]);
      const p2 = api.coord([api.value(2), api.value(3)]);
      return { type: "polyline", shape: { points: [p1, q1, q2, p2] }, style: { stroke: "#000", fill: "none", lineWidth: 2 } };
    },
  });

  // ----- colour legend (drawn above the row labels) -----
  const cbX = 866.7, cbY = 1172.3, cbW = 26.7, cbH = 174;
  const cbZero = 1258.5, cbUnit = 40.15;
  graphic.push({
    type: "rect", z: 100, zlevel: 1, silent: true, shape: { x: cbX, y: cbY, width: cbW, height: cbH },
    style: {
      fill: new echarts.graphic.LinearGradient(0, 0, 0, 1, [
        { offset: 0, color: HEAT_RED },
        { offset: (cbZero - 2 * cbUnit - cbY) / cbH, color: HEAT_RED },
        { offset: (cbZero - cbY) / cbH, color: "#ffffff" },
        { offset: (cbZero + 2 * cbUnit - cbY) / cbH, color: HEAT_BLUE },
        { offset: 1, color: HEAT_BLUE },
      ]),
    },
  });
  legendTicks.forEach((t) => {
    const y = cbZero - t * cbUnit;
    graphic.push({ type: "line", z: 101, zlevel: 1, silent: true, shape: { x1: cbX, y1: y, x2: cbX + 6, y2: y }, style: { stroke: "#fff", lineWidth: 1.5 } });
    graphic.push({ type: "line", z: 101, zlevel: 1, silent: true, shape: { x1: cbX + cbW - 6, y1: y, x2: cbX + cbW, y2: y }, style: { stroke: "#fff", lineWidth: 1.5 } });
    graphic.push({
      type: "text", z: 101, zlevel: 1, silent: true, x: cbX + cbW + 12, y,
      style: { text: String(t), fontSize: 15, fontFamily: ARIAL, fill: "#333", align: "left", verticalAlign: "middle" },
    });
  });

  // ----- texts -----
  const T = (text: string, x: number, y: number, size: number, family: string, o: any = {}) => ({
    type: "text", x, y, z: 40, silent: true, rotation: o.rot ? Math.PI / 2 : 0,
    style: {
      text, fontSize: size, fontFamily: family, fontWeight: o.weight || "normal", fill: o.color || "#000",
      align: o.align || "center", verticalAlign: "middle",
    },
  });
  graphic.push(
    T("A", 1, 21, 34, ARIAL, { align: "left" }),
    T("Metastasis_vs_Primary", 82, 28, 20.5, ARIAL, { align: "left" }),
    T("Cutoff: p value < 0.05 and [logFC] >= 1", 82, 56, 21, ARIAL, { align: "left" }),
    T("Upregulated pathways", 25, 373, 33, ARIAL, { rot: true }),
    T("10 (-log10 p value)", 414.6, 668, 25, ARIAL, { align: "left" }),
    T("B", 735.5, 22, 38, CAL),
    T("C", 1177, 22, 38, CAL),
    T("D", 1592, 22, 38, CAL),
    T("Immune score", 690.6, 368.6, 35, CAL, { rot: true }),
    T("ESTIMATE Z-score", 725.3, 367.4, 35, CAL, { rot: true }),
    T("Tumor proliferation rate", 1100.8, 378, 31, CAL, { rot: true }),
    T("Conserved pan-cancer microenvironment", 1135.5, 377, 31, CAL, { rot: true }),
    T("signature  Z-score", 1170, 354.5, 31, CAL, { rot: true }),
    T("Cell cycle", 1539, 361, 28, ARIAL, { rot: true }),
    T("Wikipathway Z-score", 1574.5, 361, 28, ARIAL, { rot: true }),
    T("E", 2, 789, 46, CAL, { weight: "bold", align: "left" }),
    T("Conserved pan-cancer microenvironment signature", 63.3, 785, 29, ARIAL, { align: "left" }),
    T("ssGSEA Z-score", 63.3, 818.3, 29, ARIAL, { align: "left" }),
    T("F", 823, 790, 46, CAL),
    T("Conserved pan-cancer microenvironment signature ssGSEA Z-score", 1368, 786, 31, CAL),
    T("Th1 cells", 978.7, 1019, 30, DEJA, { rot: true }),
    T("T cells", 1304.7, 1020, 30, DEJA, { rot: true }),
    T("effector cells", 1618, 1018, 30, DEJA, { rot: true }),
    T("effector cells traffic", 983.3, 1437.5, 30, DEJA, { rot: true }),
    T("Co-activation molecules", 1305, 1460, 30, DEJA, { rot: true }),
    T("Antitumor  cytokines", 1616, 1454, 30, DEJA, { rot: true }),
  );

  return {
    animation: false,
    backgroundColor: "#ffffff",
    grid,
    xAxis,
    yAxis,
    series,
    graphic,
    visualMap: [
      {
        type: "continuous", min: -2, max: 2, seriesIndex: heatIndex, show: false, dimension: 2,
        inRange: { color: [HEAT_BLUE, "#ffffff", HEAT_RED] },
      },
    ],
  };
}

export default function App() {
  const ref = useRef<HTMLDivElement>(null);
  useEffect(() => {
    if (!ref.current) return;
    const chart = echarts.init(ref.current, undefined, { renderer: "svg" });
    chart.setOption(buildOption() as any);
    return () => chart.dispose();
  }, []);
  return (
    <div
      ref={ref}
      style={{ position: "absolute", left: 0, top: 0, width: 1946, height: 1665, background: "#fff" }}
    />
  );
}
